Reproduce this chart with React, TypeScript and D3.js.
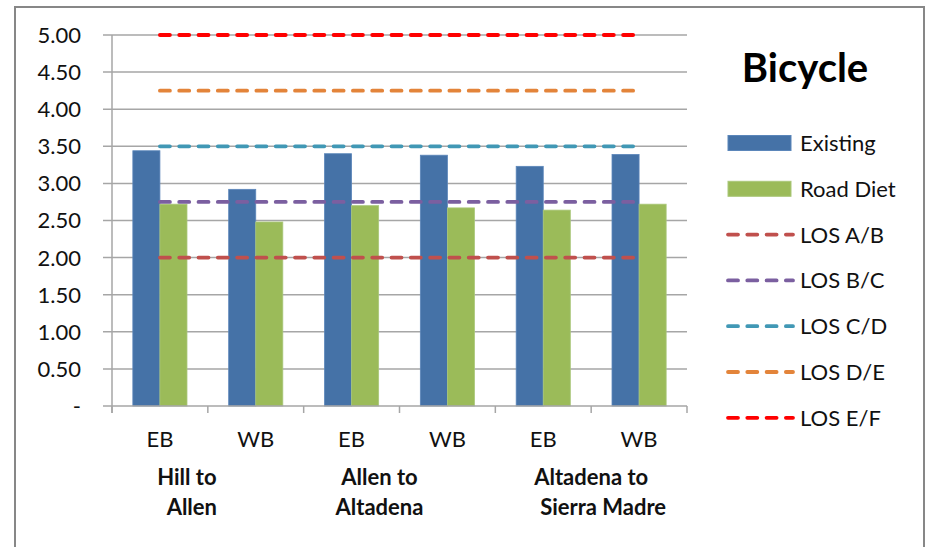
import * as d3 from "d3"

const categories = ["EB", "WB", "EB", "WB", "EB", "WB"]
const groupLabels = [
  ["Hill to", "Allen"],
  ["Allen to", "Altadena"],
  ["Altadena to", "Sierra Madre"],
]
const existing = [3.44, 2.92, 3.4, 3.38, 3.23, 3.39]
const roadDiet = [2.72, 2.48, 2.7, 2.67, 2.64, 2.72]
const losNames = ["LOS A/B", "LOS B/C", "LOS C/D", "LOS D/E", "LOS E/F"]
const losValues = [2.0, 2.75, 3.5, 4.25, 5.0]
const yTicks = [0, 0.5, 1, 1.5, 2, 2.5, 3, 3.5, 4, 4.5, 5]

const losColors = ["#c0504d", "#7b5fa0", "#4198b5", "#e3843a", "#ff0000"]
const barColors = { existing: "#4572a7", roadDiet: "#9bbb59" }
const font = "Lato, 'Open Sans', sans-serif"

// per-line nudges so the two-line group labels sit like the original
const groupOffsets = [
  [-21, -16],
  [-20, -20],
  [0, 12],
]

export default function App() {
  const width = 926
  const height = 547
  const plot = { left: 112, right: 687, top: 35, bottom: 406 }

  const idx = categories.map((_, i) => String(i))
  const x0 = d3.scaleBand().domain(idx).range([plot.left, plot.right]).paddingInner(0).paddingOuter(0)
  const x1 = d3
    .scaleBand()
    .domain(["existing", "roadDiet"])
    .range([0, x0.bandwidth()])
    .paddingInner(0)
    .paddingOuter(0.77)
  const y = d3.scaleLinear().domain([0, 5]).range([plot.bottom, plot.top])

  const center = (i: number) => (x0(String(i)) ?? 0) + x0.bandwidth() / 2
  const losLine = (v: number) =>
    d3
      .line<string>()
      .x((_, i) => center(i))
      .y(() => y(v))(categories) ?? ""

  const boundaries = d3.range(categories.length + 1).map((i) => plot.left + i * x0.step())
  const legendItems = ["Existing", "Road Diet", ...losNames]

  return (
    <div style={{ position: "absolute", left: 0, top: 0 }}>
      <svg width={width} height={height} fontFamily={font}>
        <rect x={0} y={0} width={width} height={height} fill="#fff" />
        <rect x={15} y={7} width={909} height={560} fill="none" stroke="#878787" strokeWidth={2} />

        {/* gridlines + y ticks */}
        {yTicks.map((t, i) => (
          <g key={i}>
            <line x1={plot.left - 9} x2={t === 0 ? plot.left : plot.right} y1={y(t)} y2={y(t)} stroke="#a6a6a6" strokeWidth={1.5} />
            <text x={81} y={y(t)} dy="0.36em" textAnchor="end" fontSize={22} fill="#111">
              {t === 0 ? "-" : t.toFixed(2)}
            </text>
          </g>
        ))}

        {/* bars */}
        {categories.map((c, i) => (
          <g key={i}>
            <rect
              x={(x0(String(i)) ?? 0) + (x1("existing") ?? 0)}
              y={y(existing[i])}
              width={x1.bandwidth()}
              height={plot.bottom - y(existing[i])}
              fill={barColors.existing}
              stroke="#5b86ba"
              strokeWidth={0.8}
            />
            <rect
              x={(x0(String(i)) ?? 0) + (x1("roadDiet") ?? 0)}
              y={y(roadDiet[i])}
              width={x1.bandwidth()}
              height={plot.bottom - y(roadDiet[i])}
              fill={barColors.roadDiet}
              stroke="#aac77a"
              strokeWidth={0.8}
            />
          </g>
        ))}

        {/* axes */}
        <line x1={plot.left} x2={plot.left} y1={plot.top} y2={plot.bottom + 7} stroke="#a6a6a6" strokeWidth={1.5} />
        <line x1={plot.left} x2={plot.right} y1={plot.bottom} y2={plot.bottom} stroke="#a6a6a6" strokeWidth={1.5} />
        {boundaries.map((b, i) => (
          <line key={i} x1={b} x2={b} y1={plot.bottom} y2={plot.bottom + 7} stroke="#a6a6a6" strokeWidth={1.5} />
        ))}

        {/* LOS thresholds */}
        {losValues.map((v, i) => (
          <path
            key={i}
            d={losLine(v)}
            fill="none"
            stroke={losColors[i]}
            strokeWidth={3.8}
            strokeDasharray="10 9.3"
            strokeLinecap="round"
          />
        ))}

        {/* x labels */}
        {categories.map((c, i) => (
          <text key={i} x={center(i)} y={447} textAnchor="middle" fontSize={22} fill="#111">
            {c}
          </text>
        ))}
        {groupLabels.map((lines, g) =>
          lines.map((l, j) => (
            <text
              key={`${g}-${j}`}
              x={plot.left + (g * 2 + 1) * x0.step() + groupOffsets[g][j]}
              y={485 + j * 30}
              textAnchor="middle"
              fontSize={22}
              fontWeight="bold"
              fill="#111"
            >
              {l}
            </text>
          ))
        )}

        {/* legend */}
        <text x={805} y={82} textAnchor="middle" fontSize={40} fontWeight="bold" fill="#000">
          Bicycle
        </text>
        {legendItems.map((name, i) => {
          const cy = 143 + i * 45.8
          return (
            <g key={i}>
              {i === 0 && <rect x={728} y={cy - 7.5} width={63} height={15} fill={barColors.existing} stroke="#5b86ba" />}
              {i === 1 && <rect x={728} y={cy - 7.5} width={63} height={15} fill={barColors.roadDiet} stroke="#aac77a" />}
              {i > 1 && (
                <line
                  x1={728}
                  x2={793}
                  y1={cy}
                  y2={cy}
                  stroke={losColors[i - 2]}
                  strokeWidth={3.8}
                  strokeDasharray="10 9.3"
                  strokeLinecap="round"
                />
              )}
              <text x={800} y={cy} dy="0.36em" fontSize={22} fill="#111">
                {name}
              </text>
            </g>
          )
        })}
      </svg>
    </div>
  )
}
